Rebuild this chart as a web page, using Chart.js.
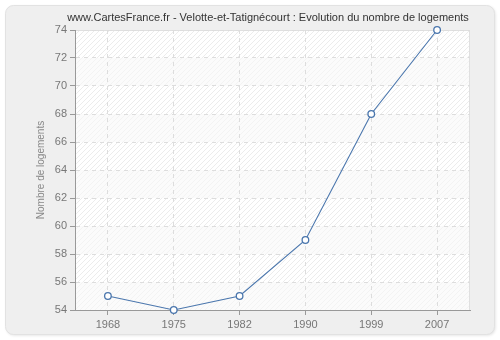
<!DOCTYPE html>
<html><head><meta charset="utf-8">
<script src="https://cdn.jsdelivr.net/npm/chart.js@4/dist/chart.umd.min.js"></script>
<style>html,body{margin:0;padding:0;background:#fff}#wrap{width:500px;height:340px;position:relative}</style>
</head><body><div id="wrap"><canvas id="c" width="500" height="340"></canvas></div>
<script>
const years = ['1968','1975','1982','1990','1999','2007'];
const logements = [55, 54, 55, 59, 68, 74];
const titleText = 'www.CartesFrance.fr - Velotte-et-Tatignécourt : Evolution du nombre de logements';
const yTitle = 'Nombre de logements';
const FONT = '"Liberation Sans", Arial, sans-serif';

function makePattern(ctx, bg, line){
  const p = document.createElement('canvas'); p.width = 5; p.height = 5;
  const g = p.getContext('2d');
  g.fillStyle = bg; g.fillRect(0,0,5,5);
  g.strokeStyle = line; g.lineWidth = 1;
  g.beginPath();
  g.moveTo(0,5); g.lineTo(5,0);
  g.moveTo(-2.5,2.5); g.lineTo(2.5,-2.5);
  g.moveTo(2.5,7.5); g.lineTo(7.5,2.5);
  g.stroke();
  return ctx.createPattern(p,'repeat');
}

const bgPlugin = {
  id:'bg',
  beforeDraw(chart){
    const ctx = chart.ctx;
    ctx.save();
    ctx.fillStyle = '#ffffff'; ctx.fillRect(0,0,500,340);
    ctx.shadowColor = 'rgba(0,0,0,0.12)'; ctx.shadowBlur = 3; ctx.shadowOffsetX = 1; ctx.shadowOffsetY = 1;
    ctx.beginPath();
    ctx.roundRect(5.5,5.5,489,329,8);
    ctx.fillStyle = '#efefef'; ctx.fill();
    ctx.shadowColor = 'transparent';
    ctx.strokeStyle = '#e2e2e2'; ctx.lineWidth = 1; ctx.stroke();
    const a = chart.chartArea, y = chart.scales.y;
    const pat1 = makePattern(ctx,'#ffffff','#ececec');
    const pat2 = makePattern(ctx,'#fbfbfb','#f3f3f3');
    for (let v = 74, i = 0; v > 54; v -= 2, i++){
      const t = y.getPixelForValue(v), b = y.getPixelForValue(v-2);
      ctx.fillStyle = i % 2 === 0 ? pat1 : pat2;
      ctx.fillRect(a.left, t, a.right - a.left, b - t);
    }
    ctx.strokeStyle = '#e0e0e0';
    ctx.strokeRect(a.left+0.5, a.top+0.5, a.right-a.left-1, a.bottom-a.top);
    ctx.fillStyle = '#333333';
    ctx.font = '11px ' + FONT;
    ctx.textAlign = 'center'; ctx.textBaseline = 'middle';
    ctx.fillText(titleText, 268, 18);
    ctx.restore();
  }
};

new Chart(document.getElementById('c'), {
  type:'line',
  data:{labels:years, datasets:[{
    data:logements, borderColor:'#4a76ad', borderWidth:1.1,
    pointBackgroundColor:'#ffffff', pointBorderColor:'#4a76ad', pointBorderWidth:1.3,
    pointRadius:3.3, tension:0, clip:false, fill:false
  }]},
  options:{
    responsive:false, animation:false, devicePixelRatio:1,
    layout:{padding:{left:30, right:30, top:30, bottom:0}},
    plugins:{legend:{display:false}, title:{display:false}, tooltip:{enabled:false}},
    scales:{
      x:{
        offset:true,
        grid:{color:'#dddddd', tickColor:'#999999', tickLength:5, drawOnChartArea:true, offset:false},
        border:{color:'#999999', width:1, dash:[4,4]},
        ticks:{color:'#777777', font:{family:FONT, size:11}, padding:3},
        afterFit(s){ s.height = 30; }
      },
      y:{
        min:54, max:74,
        ticks:{stepSize:2, color:'#777777', font:{family:FONT, size:11}, padding:3},
        grid:{color:'#dddddd', tickColor:'#999999', tickLength:5},
        border:{color:'#999999', width:1, dash:[4,4]},
        title:{display:true, text:yTitle, color:'#888888', font:{family:FONT, size:10}, padding:{top:5,bottom:4}},
        afterFit(s){ s.width = 45; }
      }
    }
  },
  plugins:[bgPlugin]
});
</script></body></html>
